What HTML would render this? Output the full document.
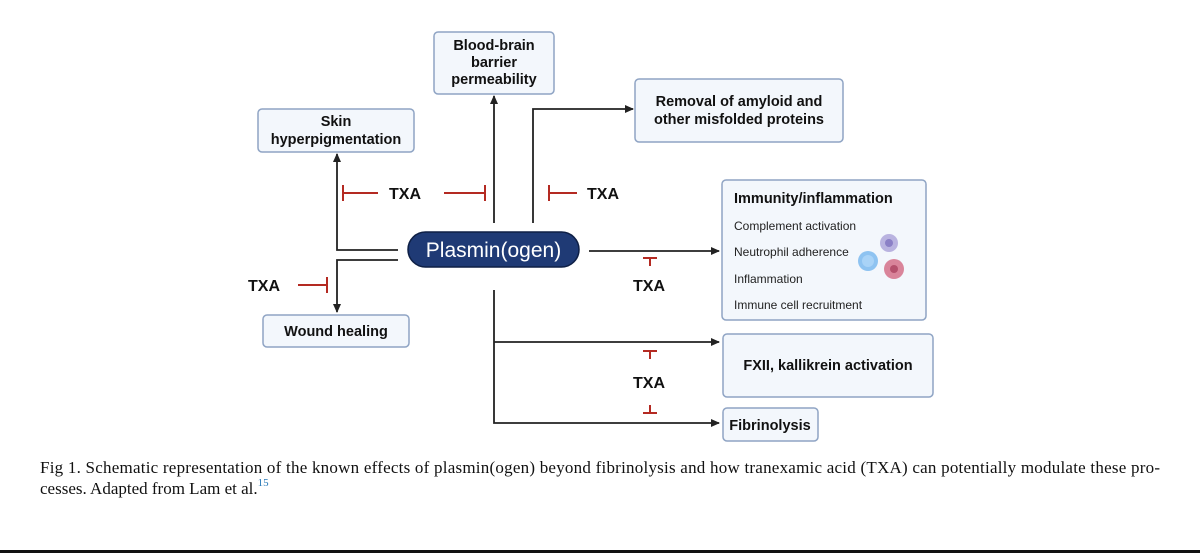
<!DOCTYPE html>
<html><head><meta charset="utf-8"><style>
html,body{margin:0;padding:0;background:#fff;}
svg{display:block;}
.b{font-family:"Liberation Sans",sans-serif;font-weight:bold;fill:#111;}
.s{font-family:"Liberation Sans",sans-serif;fill:#222;font-size:12px;}
.c{font-family:"Liberation Serif",serif;fill:#111;font-size:17px;}
</style></head><body>
<svg width="1200" height="554" viewBox="0 0 1200 554" xmlns="http://www.w3.org/2000/svg">
<defs>
<marker id="a" markerWidth="10" markerHeight="10" refX="8" refY="5" orient="auto" markerUnits="userSpaceOnUse">
<path d="M0,1 L9,5 L0,9 Z" fill="#222"/></marker>
</defs>
<g fill="#f3f7fc" stroke="#8fa4c4" stroke-width="1.5">
<rect x="434" y="32" width="120" height="62" rx="4"/>
<rect x="258" y="109" width="156" height="43" rx="4"/>
<rect x="635" y="79" width="208" height="63" rx="4"/>
<rect x="722" y="180" width="204" height="140" rx="4"/>
<rect x="723" y="334" width="210" height="63" rx="4"/>
<rect x="723" y="408" width="95" height="33" rx="4"/>
<rect x="263" y="315" width="146" height="32" rx="4"/>
</g>
<g class="b" font-size="14.5" text-anchor="middle">
<text x="494" y="50">Blood-brain</text>
<text x="494" y="67">barrier</text>
<text x="494" y="84">permeability</text>
<text x="336" y="126">Skin</text>
<text x="336" y="144">hyperpigmentation</text>
<text x="739" y="106">Removal of amyloid and</text>
<text x="739" y="124">other misfolded proteins</text>
<text x="828" y="370">FXII, kallikrein activation</text>
<text x="770" y="430">Fibrinolysis</text>
<text x="336" y="336">Wound healing</text>
</g>
<text class="b" x="734" y="203" font-size="14.5">Immunity/inflammation</text>
<text class="s" x="734" y="230">Complement activation</text>
<text class="s" x="734" y="256">Neutrophil adherence</text>
<text class="s" x="734" y="283">Inflammation</text>
<text class="s" x="734" y="309">Immune cell recruitment</text>
<circle cx="889" cy="243" r="9" fill="#b9b3e0"/><circle cx="889" cy="243" r="4" fill="#8b80c6"/>
<circle cx="868" cy="261" r="10" fill="#8ec3f1"/><circle cx="868" cy="261" r="6" fill="#a9d3f7"/>
<circle cx="894" cy="269" r="10" fill="#d9849a"/><circle cx="894" cy="269" r="4" fill="#b5506c"/>
<rect x="408" y="232" width="171" height="35" rx="17.5" fill="#1f3a75" stroke="#0e1f45" stroke-width="1.5"/>
<text x="493.5" y="257" text-anchor="middle" font-family="Liberation Sans,sans-serif" font-size="21" fill="#fff">Plasmin(ogen)</text>
<g stroke="#222" stroke-width="1.8" fill="none">
<path d="M398,250 H337 V154" marker-end="url(#a)"/>
<path d="M398,260 H337 V312" marker-end="url(#a)"/>
<path d="M494,223 V96" marker-end="url(#a)"/>
<path d="M533,223 V109 H633" marker-end="url(#a)"/>
<path d="M589,251 H719" marker-end="url(#a)"/>
<path d="M494,290 V423 H719" marker-end="url(#a)"/>
<path d="M494,342 H719" marker-end="url(#a)"/>
</g>
<g stroke="#b42a22" stroke-width="2" fill="none">
<path d="M343,185 V201 M343,193 H378"/>
<path d="M444,193 H485 M485,185 V201"/>
<path d="M549,185 V201 M549,193 H577"/>
<path d="M298,285 H327 M327,277 V293"/>
<path d="M643,258 H657 M650,258 V266"/>
<path d="M643,351 H657 M650,351 V359"/>
<path d="M643,413 H657 M650,405 V413"/>
</g>
<g class="b" font-size="16">
<text x="389" y="199">TXA</text>
<text x="587" y="199">TXA</text>
<text x="248" y="291">TXA</text>
<text x="633" y="291">TXA</text>
<text x="633" y="388">TXA</text>
</g>
<text class="c" x="40" y="473" textLength="1120" lengthAdjust="spacing">Fig 1.  Schematic representation of the known effects of plasmin(ogen) beyond fibrinolysis and how tranexamic acid (TXA) can potentially modulate these pro-</text>
<text class="c" x="40" y="494">cesses. Adapted from Lam et al.<tspan font-size="11" fill="#2a7ab8" dy="-8">15</tspan></text>
<rect x="0" y="550" width="1200" height="3" fill="#111"/>
</svg>
</body></html>
